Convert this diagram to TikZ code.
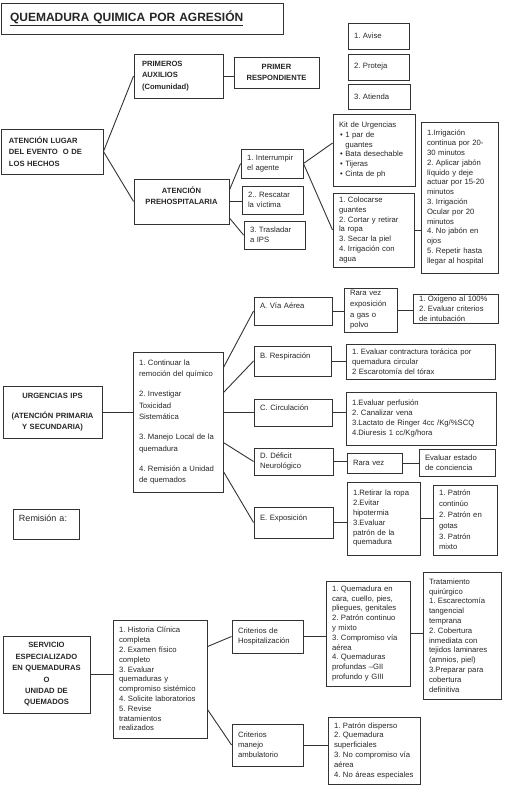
\documentclass[tikz,border=0pt]{standalone}
\usepackage{fontspec}
\setmainfont{Liberation Sans}

\begin{document}
\frenchspacing
\begin{tikzpicture}[x=1pt,y=-1pt,
    caja/.style={draw=black!80, line width=0.9pt, inner xsep=6pt, inner ysep=0pt, align=left, text=black!85, font=\fontsize{7.7}{9.8}\selectfont},
    negrita/.style={caja, inner xsep=8pt, font=\fontsize{7.6}{11.2}\selectfont\bfseries},
    linea/.style={draw=black!80, line width=0.9pt}]
    \useasboundingbox (0,0) rectangle (504,790);

    \node[caja, inner xsep=9pt, text width=264pt, minimum height=31pt, font=\fontsize{12}{14}\selectfont\bfseries] (titulo) at (142,18.5) {\underline{QUEMADURA QUIMICA POR AGRESIÓN}};

    % lugar del evento
    \node[negrita, text width=86pt, minimum height=45pt] (lugar) at (52,151.5) {ATENCIÓN LUGAR\\DEL EVENTO \ O DE\\LOS HECHOS};
    \node[negrita, text width=73pt, minimum height=44pt] (primeros) at (178.5,76) {PRIMEROS\\AUXILIOS\\(Comunidad)};
    \node[negrita, align=center, text width=69pt, minimum height=31pt] (respond) at (276.5,72.5) {PRIMER\\RESPONDIENTE};
    \node[caja, text width=49pt, minimum height=26pt] (avise) at (378.5,36) {1. Avise};
    \node[caja, text width=49pt, minimum height=26pt] (proteja) at (378.5,67) {2. Proteja};
    \node[caja, text width=50pt, minimum height=25pt] (atienda) at (379,96.5) {3. Atienda};
    \node[negrita, align=center, text width=79pt, minimum height=45pt] (prehosp) at (181.5,201.5) {ATENCIÓN\\PREHOSPITALARIA\\\mbox{}};
    \node[caja, text width=50pt, minimum height=29pt] (interr) at (272,163.5) {1. Interrumpir\\el agente};
    \node[caja, text width=49pt, minimum height=28pt] (rescat) at (272.5,200) {2.. Rescatar\\la víctima};
    \node[caja, text width=49pt, minimum height=28pt] (trasl) at (274.5,235) {3. Trasladar\\a IPS};
    \node[caja, text width=70pt, minimum height=72pt] (kit) at (374,150) {Kit de Urgencias\\
        \hspace*{1pt}\textbullet\ 1 par de\\\hspace*{1pt}\hphantom{\textbullet\ }guantes\\
        \hspace*{1pt}\textbullet\ Bata desechable\\\hspace*{1pt}\textbullet\ Tijeras\\
        \hspace*{1pt}\textbullet\ Cinta de ph};
    \node[caja, text width=69pt, minimum height=74pt] (coloc) at (373.5,230) {1. Colocarse\\guantes\\2. Cortar y retirar\\la ropa\\3. Secar la piel\\4. Irrigación con\\agua};
    \node[caja, text width=65pt, minimum height=151pt] (irrig) at (459.5,197.5) {1.Irrigación\\continua por 20-\\30 minutos\\2. Aplicar jabón\\líquido y deje\\actuar por 15-20\\minutos\\3. Irrigación\\Ocular por 20\\minutos\\4. No jabón en\\ojos\\5. Repetir hasta\\llegar al hospital};

    \draw[linea] (lugar.east) -- (primeros.west);
    \draw[linea] (lugar.east) -- (prehosp.west);
    \draw[linea] (primeros.east) -- (primeros.east -| respond.west);
    \draw[linea] ([yshift=11.5pt]prehosp.east) -- (interr.west);
    \draw[linea] (prehosp.east) -- (prehosp.east -| rescat.west);
    \draw[linea] ([yshift=-16.5pt]prehosp.east) -- (trasl.west);
    \draw[linea] (interr.east) -- ([yshift=7pt]kit.west);
    \draw[linea] (interr.east) -- (coloc.west);
    \draw[linea] (coloc.east) -- (coloc.east -| irrig.west);

    % urgencias IPS
    \node[negrita, align=center, text width=83pt, minimum height=52pt, font=\fontsize{7.6}{10.5}\selectfont\bfseries] (urg) at (52.5,412) {URGENCIAS IPS\\[10pt](ATENCIÓN PRIMARIA\\Y SECUNDARIA)};
    \node[caja, text width=78pt, minimum height=140pt, font=\fontsize{7.7}{11.7}\selectfont] (medio) at (178,422) {1. Continuar la\\remoción del químico\\[8pt]2. Investigar\\Toxicidad\\Sistemática\\[8pt]3. Manejo Local de la\\quemadura\\[8pt]4. Remisión a Unidad\\de quemados};
    \node[caja, text width=66pt, minimum height=28pt] (via) at (293,311) {A. Vía Aérea\\\mbox{}};
    \node[caja, text width=65pt, minimum height=30pt] (resp) at (292.5,361) {B. Respiración\\\mbox{}};
    \node[caja, text width=66pt, minimum height=27pt] (circ) at (293,412.5) {C. Circulación\\\mbox{}};
    \node[caja, text width=67pt, minimum height=27pt] (defic) at (293.5,461.5) {D. Déficit\\Neurológico};
    \node[caja, text width=67pt, minimum height=31pt] (expo) at (293.5,522.5) {E. Exposición\\\mbox{}};
    \node[caja, text width=41pt, minimum height=44pt, font=\fontsize{7.7}{10.7}\selectfont] (rara) at (370.5,310) {Rara vez\\exposición\\a gas o\\polvo};
    \node[caja, text width=73pt, minimum height=29pt] (oxi) at (455.5,308.5) {1. Oxigeno al 100\%\\2. Evaluar criterios\\de intubación};
    \node[caja, text width=137pt, minimum height=35pt] (respbox) at (420.5,361.5) {1. Evaluar contractura torácica por\\quemadura circular\\2 Escarotomía del tórax};
    \node[caja, text width=138pt, minimum height=53pt] (circbox) at (421,418.5) {1.Evaluar perfusión\\2. Canalizar vena\\3.Lactato de Ringer 4cc /Kg/\%SCQ\\4.Diuresis 1 cc/Kg/hora};
    \node[caja, text width=43pt, minimum height=20pt] (rara2) at (374.5,463) {Rara vez};
    \node[caja, text width=64pt, minimum height=27pt] (conc) at (457,462.5) {Evaluar estado\\de conciencia};
    \node[caja, text width=61pt, minimum height=73pt] (retir) at (383.5,518.5) {1.Retirar la ropa\\2.Evitar\\hipotermia\\3.Evaluar\\patrón de la\\quemadura};
    \node[caja, text width=52pt, minimum height=70pt, font=\fontsize{7.7}{10.8}\selectfont] (patron) at (465,520) {1. Patrón\\continúo\\2. Patrón en\\gotas\\3. Patrón\\mixto};
    \node[caja, text width=54pt, minimum height=30pt, font=\fontsize{9}{11}\selectfont] (remis) at (46,524) {Remisión a:\\\mbox{}};

    \draw[linea] (urg.east) -- (urg.east -| medio.west);
    \draw[linea] ([yshift=-16pt]medio.north east) -- (via.west);
    \draw[linea] ([yshift=-41pt]medio.north east) -- (resp.west);
    \draw[linea] (circ.west -| medio.east) -- (circ.west);
    \draw[linea] ([yshift=-91pt]medio.north east) -- (defic.west);
    \draw[linea] ([yshift=-120pt]medio.north east) -- (expo.west);
    \draw[linea] (via.east) -- (via.east -| rara.west);
    \draw[linea] (rara.east) -- (rara.east -| oxi.west);
    \draw[linea] (resp.east) -- (resp.east -| respbox.west);
    \draw[linea] (circ.east) -- (circ.east -| circbox.west);
    \draw[linea] (defic.east) -- (defic.east -| rara2.west);
    \draw[linea] (rara2.east) -- (rara2.east -| conc.west);
    \draw[linea] (expo.east) -- (expo.east -| retir.west);
    \draw[linea] (retir.east) -- (retir.east -| patron.west);

    % servicio especializado
    \node[negrita, align=center, inner xsep=6pt, text width=75pt, minimum height=77pt, font=\fontsize{7.6}{11.4}\selectfont\bfseries] (serv) at (46.5,674.5) {SERVICIO\\ESPECIALIZADO\\EN QUEMADURAS\\O\\UNIDAD DE\\QUEMADOS};
    \node[caja, text width=82pt, minimum height=118pt] (hist) at (160,679) {1. Historia Clínica\\completa\\2. Examen físico\\completo\\3. Evaluar\\quemaduras y\\compromiso sistémico\\4. Solicite laboratorios\\5. Revise\\tratamientos\\realizados};
    \node[caja, text width=59pt, minimum height=33pt] (hosp) at (267.5,636.5) {Criterios de\\Hospitalización};
    \node[caja, text width=59pt, minimum height=42pt] (amb) at (267.5,745) {Criterios\\manejo\\ambulatorio};
    \node[caja, text width=72pt, minimum height=105pt] (quem) at (368,633.5) {1. Quemadura en\\cara, cuello, pies,\\pliegues, genitales\\2. Patrón continuo\\y mixto\\3. Compromiso vía\\aérea\\4. Quemaduras\\profundas --GII\\profundo y GIII};
    \node[caja, text width=66pt, minimum height=127pt] (trat) at (462,635.5) {Tratamiento\\quirúrgico\\1. Escarectomía\\tangencial\\temprana\\2. Cobertura\\inmediata con\\tejidos laminares\\(amnios, piel)\\3.Preparar para\\cobertura\\definitiva};
    \node[caja, text width=80pt, minimum height=67pt] (disp) at (374,750.5) {1. Patrón disperso\\2. Quemadura\\superficiales\\3. No compromiso vía\\aérea\\4. No áreas especiales};

    \draw[linea] (serv.east) -- (serv.east -| hist.west);
    \draw[linea] ([yshift=-27pt]hist.north east) -- (hosp.west);
    \draw[linea] ([yshift=29pt]hist.south east) -- (amb.west);
    \draw[linea] (hosp.east) -- (hosp.east -| quem.west);
    \draw[linea] (quem.east) -- (quem.east -| trat.west);
    \draw[linea] (amb.east) -- (amb.east -| disp.west);
\end{tikzpicture}
\end{document}
